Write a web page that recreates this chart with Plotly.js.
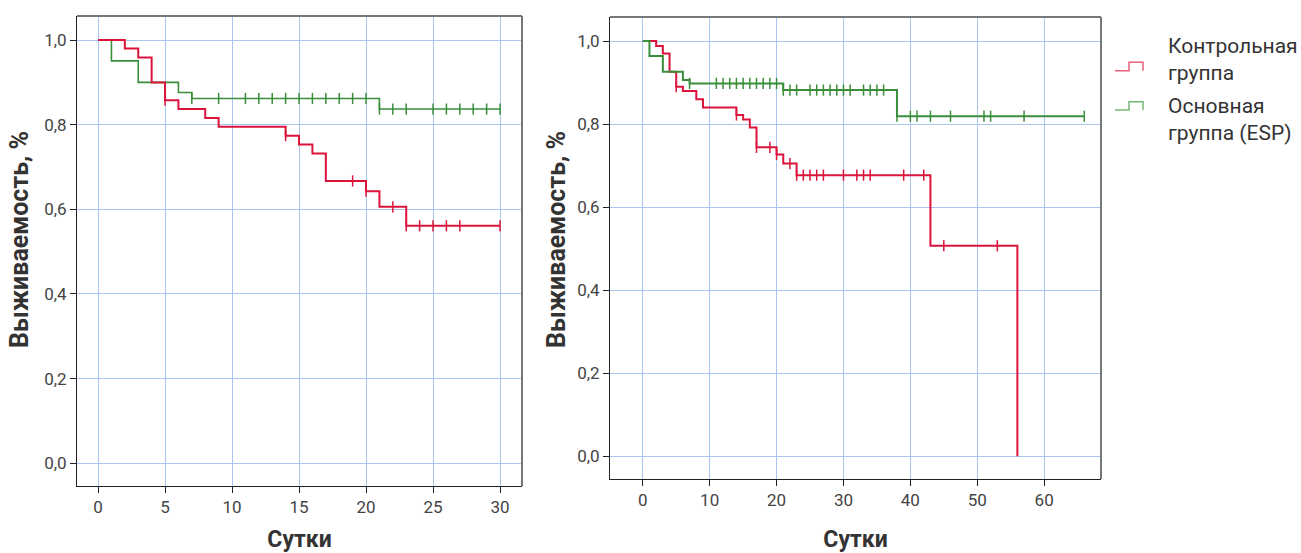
<!DOCTYPE html>
<html>
<head>
<meta charset="utf-8">
<script src="https://cdn.plot.ly/plotly-3.0.1.min.js"></script>
<style>html,body{margin:0;padding:0;background:#fff;}#chart{width:1301px;height:553px;}</style>
</head>
<body>
<div id="chart"></div>
<script>
// ---- Left chart (30 days) ----
var leftCtrlTimes = [0, 2, 3, 4, 5, 6, 8, 9, 14, 15, 16, 17, 20, 21, 23, 30];
var leftCtrlSurv  = [1.0, 0.980, 0.959, 0.900, 0.858, 0.837, 0.816, 0.795, 0.774, 0.753, 0.732, 0.667, 0.643, 0.606, 0.561, 0.561];
var leftCtrlCens  = [5, 14, 19, 20, 22, 23, 24, 25, 26, 27, 30];

var leftEspTimes = [0, 1, 3, 6, 7, 21, 30];
var leftEspSurv  = [1.0, 0.951, 0.900, 0.876, 0.862, 0.837, 0.837];
var leftEspCens  = [7, 9, 11, 12, 13, 14, 15, 16, 17, 18, 19, 20, 21, 22, 23, 25, 26, 27, 28, 29, 30];

// ---- Right chart (66 days) ----
var rightCtrlTimes = [0, 2, 3, 4, 5, 6, 8, 9, 14, 15, 16, 17, 20, 21, 23, 43, 56];
var rightCtrlSurv  = [1.0, 0.988, 0.970, 0.926, 0.890, 0.880, 0.860, 0.840, 0.822, 0.811, 0.792, 0.744, 0.727, 0.705, 0.677, 0.507, 0.0];
var rightCtrlCens  = [5, 14, 17, 19, 20, 22, 23, 24, 25, 26, 27, 30, 32, 33, 34, 39, 42, 45, 53];

var rightEspTimes = [0, 1, 3, 6, 7, 21, 38, 66];
var rightEspSurv  = [1.0, 0.964, 0.926, 0.906, 0.898, 0.882, 0.819, 0.819];
var rightEspCens  = [7, 11, 12, 13, 14, 15, 16, 17, 18, 19, 20, 21, 22, 23, 25, 26, 27, 28, 29, 30, 31, 33, 34, 35, 36, 38, 40, 41, 43, 46, 51, 52, 57, 66];

var leftTicks  = [0, 5, 10, 15, 20, 25, 30];
var rightTicks = [0, 10, 20, 30, 40, 50, 60];
var yTicks     = [0, 0.2, 0.4, 0.6, 0.8, 1.0];

var legendLabels = ['Контрольная<br>группа', 'Основная<br>группа (ESP)'];
var xTitle = 'Сутки';
var yTitle = 'Выживаемость, %';

var RED = '#dc143c';
var GREEN = '#3a8e3a';

// survival at time t (value after steps up to t)
function survAt(times, surv, t) {
  var v = surv[0];
  for (var i = 0; i < times.length; i++) { if (times[i] <= t) v = surv[i]; }
  return v;
}

function curve(times, surv, color, width, xa, ya) {
  return {x: times, y: surv, type: 'scatter', mode: 'lines', line: {shape: 'hv', color: color, width: width},
          xaxis: xa, yaxis: ya, showlegend: false, hoverinfo: 'skip'};
}
function cens(times, surv, ct, color, xa, ya) {
  return {x: ct, y: ct.map(function (t) { return survAt(times, surv, t); }), type: 'scatter', mode: 'markers',
          marker: {symbol: 'line-ns', size: 8, color: color, line: {color: color, width: 1.5}},
          xaxis: xa, yaxis: ya, showlegend: false, hoverinfo: 'skip'};
}

var data = [
  curve(leftEspTimes, leftEspSurv, GREEN, 1.6, 'x', 'y'),
  curve(leftCtrlTimes, leftCtrlSurv, RED, 2, 'x', 'y'),
  cens(leftEspTimes, leftEspSurv, leftEspCens, GREEN, 'x', 'y'),
  cens(leftCtrlTimes, leftCtrlSurv, leftCtrlCens, RED, 'x', 'y'),
  curve(rightCtrlTimes, rightCtrlSurv, RED, 2, 'x2', 'y2'),
  curve(rightEspTimes, rightEspSurv, GREEN, 2, 'x2', 'y2'),
  cens(rightCtrlTimes, rightCtrlSurv, rightCtrlCens, RED, 'x2', 'y2'),
  cens(rightEspTimes, rightEspSurv, rightEspCens, GREEN, 'x2', 'y2')
];

var W = 1301, H = 553;
function px(x) { return x / W; }
function py(y) { return 1 - y / H; }

var GRID = '#a9c6f2';
var FONT = 'Roboto, "Open Sans", sans-serif';
function xax(domain, range, ticks, anchor, standoff) {
  return {domain: domain, range: range, tickvals: ticks, ticktext: ticks.map(String), anchor: anchor,
          showline: true, linecolor: '#222', linewidth: 1, ticks: 'outside', ticklen: 6, tickcolor: '#222',
          showgrid: true, gridcolor: GRID, gridwidth: 1, zeroline: false, fixedrange: true,
          tickfont: {family: FONT, size: 17, color: '#444'},
          title: {text: xTitle, standoff: standoff, font: {family: FONT, size: 23, color: '#333', weight: 'bold'}}};
}
function yax(domain, range, anchor) {
  return {domain: domain, range: range, tickvals: yTicks, tickformat: '.1f', anchor: anchor,
          showline: true, linecolor: '#222', linewidth: 1, ticks: 'outside', ticklen: 6, tickcolor: '#222',
          showgrid: true, gridcolor: GRID, gridwidth: 1, zeroline: false, fixedrange: true,
          tickfont: {family: FONT, size: 17, color: '#444'}};
}

function border(xref, yref) {
  return [
    {type: 'line', xref: xref + ' domain', yref: yref + ' domain', x0: 0, x1: 1, y0: 1, y1: 1, line: {color: '#777', width: 2}},
    {type: 'line', xref: xref + ' domain', yref: yref + ' domain', x0: 1, x1: 1, y0: 0, y1: 1, line: {color: '#777', width: 2}}
  ];
}

function legendIcon(yLow, yHigh, color) {
  return {type: 'path', xref: 'paper', yref: 'paper',
          path: 'M' + px(1115) + ',' + py(yLow) + ' L' + px(1129) + ',' + py(yLow) + ' L' + px(1129) + ',' + py(yHigh) +
                ' L' + px(1143) + ',' + py(yHigh) + ' L' + px(1143) + ',' + py(yLow),
          line: {color: color, width: 1.5}};
}

function yTitleAnn(x, y) {
  return {xref: 'paper', yref: 'paper', x: px(x), y: py(y), xanchor: 'center', yanchor: 'middle', textangle: -90,
          showarrow: false, text: yTitle, font: {family: FONT, size: 25, color: '#333', weight: 'bold'}};
}

var layout = {
  width: W, height: H,
  margin: {l: 0, r: 0, t: 0, b: 0},
  paper_bgcolor: '#fff', plot_bgcolor: '#fff',
  separators: ',.',
  showlegend: false,
  font: {family: FONT, color: '#333'},
  xaxis: xax([px(77), px(522)], [-1.57, 31.64], leftTicks, 'y', 19),
  yaxis: yax([1 - 486 / H, 1 - 16 / H], [-0.054, 1.057], 'x'),
  xaxis2: xax([px(610), px(1101)], [-4.9, 68.5], rightTicks, 'y2', 26),
  yaxis2: yax([1 - 479 / H, 1 - 17 / H], [-0.055, 1.058], 'x2'),
  shapes: border('x', 'y').concat(border('x2', 'y2')).concat([
    legendIcon(70.7, 62.3, '#e8607e'),
    legendIcon(110, 101.7, '#74b874')
  ]),
  annotations: [
    yTitleAnn(20, 240),
    yTitleAnn(557, 240),
    {xref: 'paper', yref: 'paper', x: px(1166), y: py(59), xanchor: 'left', yanchor: 'middle', align: 'left', showarrow: false,
     text: legendLabels[0], font: {family: FONT, size: 21, color: '#333'}},
    {xref: 'paper', yref: 'paper', x: px(1166), y: py(119), xanchor: 'left', yanchor: 'middle', align: 'left', showarrow: false,
     text: legendLabels[1], font: {family: FONT, size: 21, color: '#333'}}
  ]
};

Plotly.newPlot('chart', data, layout, {displayModeBar: false, staticPlot: true});
</script>
</body>
</html>
